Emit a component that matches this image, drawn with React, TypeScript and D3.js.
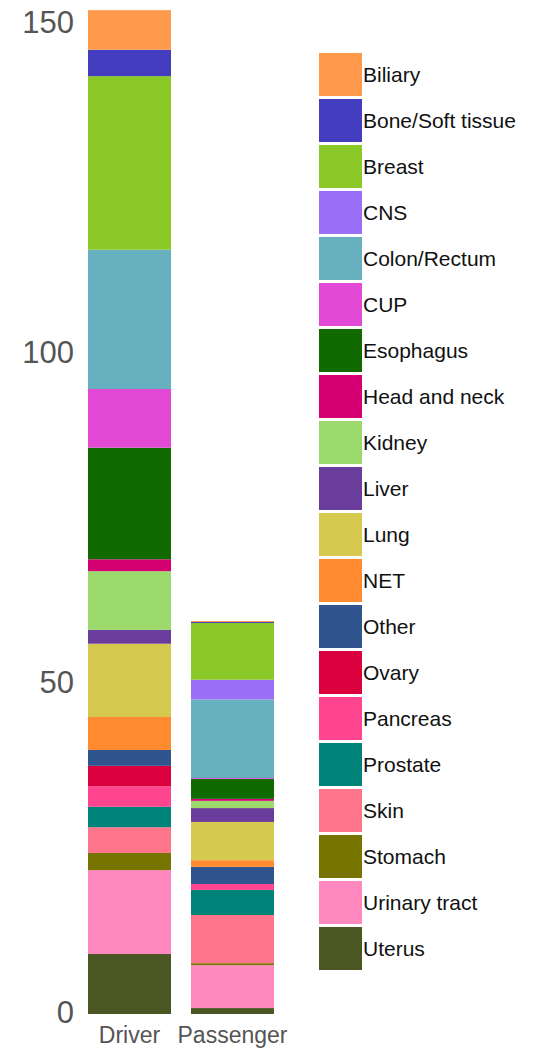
import React from "react";
import * as d3 from "d3";

const groups = ["Driver", "Passenger"];
const categories = [
  "Biliary", "Bone/Soft tissue", "Breast", "CNS", "Colon/Rectum", "CUP",
  "Esophagus", "Head and neck", "Kidney", "Liver", "Lung", "NET", "Other",
  "Ovary", "Pancreas", "Prostate", "Skin", "Stomach", "Urinary tract", "Uterus",
];
const colors = [
  "#ff994c", "#453dbf", "#8bc928", "#9b6ff7", "#67b0c0", "#e24ad6",
  "#106a00", "#d40072", "#9cd96d", "#6a3c9c", "#d6c94f", "#ff8a2f", "#30548d",
  "#d9003d", "#ff4590", "#00847a", "#ff768c", "#777500", "#ff88bf", "#4a5723",
];
const driverValues = [
  6, 4, 26.3, 0, 21.1, 8.9,
  16.9, 1.8, 8.9, 2.1, 11.1, 5, 2.4,
  3.1, 3.1, 3.1, 3.9, 2.6, 12.7, 9.1,
];
const passengerValues = [
  0.15, 0.15, 8.6, 3.0, 11.9, 0.15,
  3.0, 0.3, 1.1, 2.1, 5.8, 1.0, 2.6,
  0, 0.9, 3.8, 7.3, 0.3, 6.5, 0.9,
];
const yTicks = [0, 50, 100, 150];

const W = 534;
const H = 1049;
const FONT = "'Liberation Sans', Arial, Helvetica, sans-serif";

export default function App() {
  const y = d3.scaleLinear().domain([0, 150]).range([1014, 24]);
  const x = d3
    .scaleBand<string>()
    .domain(groups)
    .range([78, 284])
    .paddingInner(20 / 103)
    .paddingOuter(10 / 103);

  const rows = groups.map((g, gi) => {
    const vals = gi === 0 ? driverValues : passengerValues;
    const row: Record<string, any> = { group: g };
    categories.forEach((c, i) => (row[c] = vals[i]));
    return row;
  });
  const stackKeys = categories.slice().reverse();
  const series = d3.stack().keys(stackKeys)(rows as any);
  const color = d3.scaleOrdinal<string, string>().domain(categories).range(colors);

  const legendY = d3
    .scaleBand<string>()
    .domain(categories)
    .range([51.5, 51.5 + 46 * categories.length])
    .paddingInner(3 / 46)
    .paddingOuter(1.5 / 46);

  return (
    <svg
      width={W}
      height={H}
      style={{ position: "absolute", left: 0, top: 0, display: "block", background: "#fff" }}
      fontFamily={FONT}
    >
      {series.map((s) => (
        <g key={s.key} fill={color(s.key)}>
          {s.map((d, i) => {
            const h = y(d[0]) - y(d[1]);
            if (h <= 0) return null;
            return (
              <rect
                key={i}
                x={x(groups[i])}
                y={y(d[1])}
                width={x.bandwidth()}
                height={h}
              />
            );
          })}
        </g>
      ))}
      {yTicks.map((t) => (
        <text
          key={t}
          x={74}
          y={y(t) + 8.5}
          textAnchor="end"
          fontSize={31}
          fill="#555"
        >
          {t}
        </text>
      ))}
      {groups.map((g) => (
        <text
          key={g}
          x={(x(g) as number) + x.bandwidth() / 2}
          y={1043}
          textAnchor="middle"
          fontSize={23}
          fill="#555"
        >
          {g}
        </text>
      ))}
      {categories.map((c) => (
        <g key={c}>
          <rect
            x={319}
            y={legendY(c)}
            width={43}
            height={legendY.bandwidth()}
            fill={color(c)}
          />
          <text
            x={363}
            y={(legendY(c) as number) + legendY.bandwidth() / 2 + 7.5}
            fontSize={21}
            fill="#111"
          >
            {c}
          </text>
        </g>
      ))}
    </svg>
  );
}
